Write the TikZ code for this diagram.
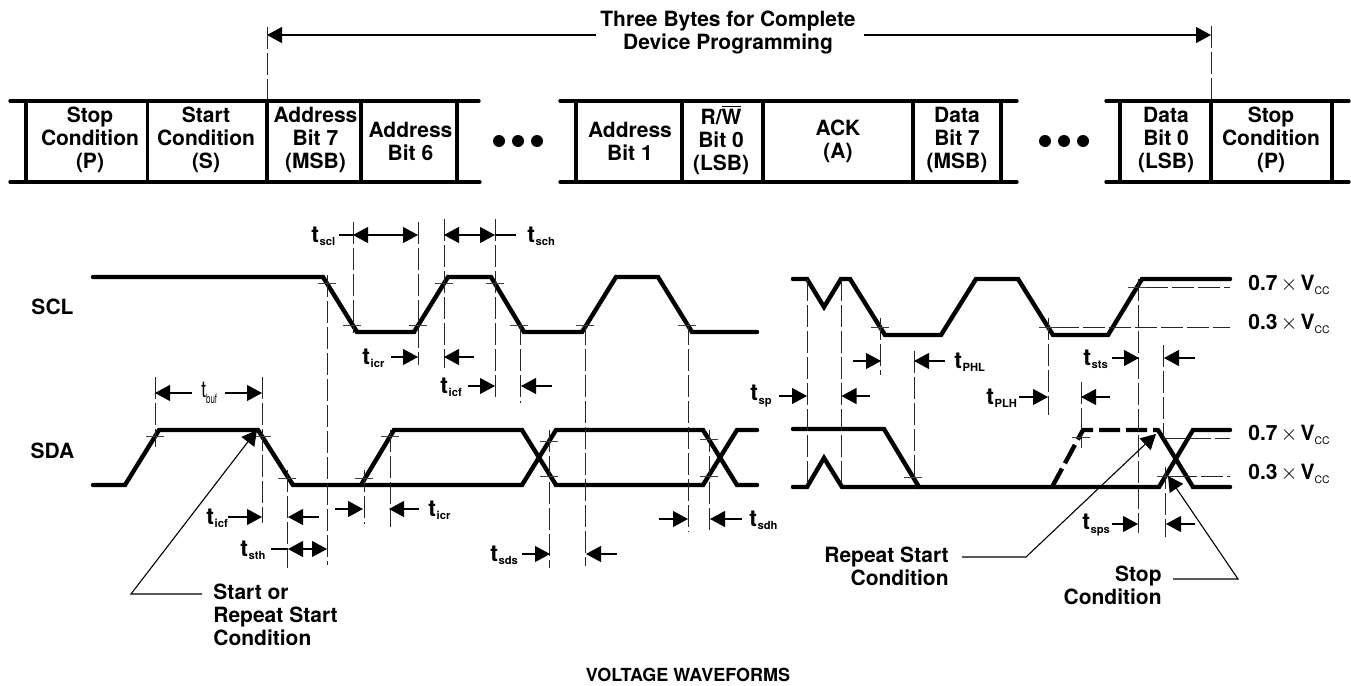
\documentclass[tikz,border=0pt]{standalone}
\usepackage{fontspec}
\setmainfont{TeX Gyre Heros}
\usetikzlibrary{arrows.meta}
\newcommand{\tlab}[1]{{\bfseries t\kern0.3pt\raisebox{-0.25ex}{\fontsize{5.6}{7}\selectfont #1}}}
\newcommand{\vlev}[1]{{\bfseries #1\kern1.5pt{\mdseries$\times$}\kern1.5pt V\raisebox{-0.3ex}{\mdseries\fontsize{5.2}{7}\selectfont CC}}}
\begin{document}
\begin{tikzpicture}[x=0.5pt, y=-0.5pt, line cap=butt, >={Triangle[length=7.5pt,width=8pt]}]
  \tikzset{lbl/.style={font=\bfseries\fontsize{10.5}{11.5}\selectfont, align=center, inner sep=0pt},
    rail/.style={line width=1.7pt, line cap=round}, wave/.style={line width=2.2pt, line cap=round},
    guide/.style={draw=black!85, line width=0.5pt, dash pattern=on 11pt off 2pt},
    lvl/.style={draw=black!75, line width=0.5pt}, dimn/.style={line width=0.55pt},
    tlbl/.style={anchor=west, inner sep=0pt, font=\fontsize{11.5}{12}\selectfont},
    vlbl/.style={anchor=west, inner sep=0pt, font=\fontsize{10.5}{12}\selectfont}}
  \useasboundingbox (0,0) rectangle (1351,686);
  % kop
  \node[lbl] (bytes) at (728,33) {Three Bytes for Complete\\Device Programming};
  \draw[->,dimn] (596,35) -- (267,35);
  \draw[->,dimn] (864,35) -- (1211,35);
  \draw[guide] (267,27) -- (267,100);
  \draw[guide] (1211,26) -- (1211,100);
  % frame
  \draw[rail] (10,101) -- (479,101) (10,182) -- (480,182);
  \draw[rail] (560,101) -- (1017,101) (560,182) -- (1017,182);
  \draw[rail] (1106,101) -- (1349,101) (1106,182) -- (1349,182);
  \draw[line width=1.6pt] (26,101) -- (26,182) (147.5,101) -- (147.5,182) (267,101) -- (267,182)
    (361,101) -- (361,182) (457,101) -- (457,182) (576,101) -- (576,182) (682,101) -- (682,182)
    (763,101) -- (763,182) (913,101) -- (913,182) (1001,101) -- (1001,182) (1120,101) -- (1120,182)
    (1211,101) -- (1211,182) (1332,101) -- (1332,182);
  \node[lbl] (stopa) at (90,140) {Stop\\Condition\\(P)};
  \node[lbl] (starta) at (206,140) {Start\\Condition\\(S)};
  \node[lbl] (addr7) at (315.5,140) {Address\\Bit 7\\(MSB)};
  \node[lbl] (addr6) at (410.5,141) {Address\\Bit 6};
  \node[lbl] (addr1) at (630,141) {Address\\Bit 1};
  \node[lbl] (rw) at (721,140) {R/$\overline{\hbox{W}}$\\Bit 0\\(LSB)};
  \node[lbl] (ack) at (838,141) {ACK\\(A)};
  \node[lbl] (data7) at (957,140) {Data\\Bit 7\\(MSB)};
  \node[lbl] (data0) at (1166,140) {Data\\Bit 0\\(LSB)};
  \node[lbl] (stopb) at (1271,140) {Stop\\Condition\\(P)};
  \fill (499,141) circle[radius=6] (518,141) circle[radius=6] (537,141) circle[radius=6];
  \fill (1045,141) circle[radius=6] (1064,141) circle[radius=6] (1083,141) circle[radius=6];
  % signaalnamen
  \node[lbl] (scl) at (52.5,307) {SCL};
  \node[lbl] (sda) at (52.5,451) {SDA};
  % SCL links
  \draw[wave] (93,277) -- (323,277) -- (357,332) -- (414,332) -- (448,277) -- (491,277) -- (524,332)
    -- (582,332) -- (616,277) -- (658,277) -- (692,332) -- (757,332);
  % SDA links
  \draw[wave] (93,485) -- (125,485) -- (159,430) -- (258,430) -- (293,485) -- (522,485) -- (556,430)
    -- (703,430) -- (737,485) -- (757,485);
  \draw[wave] (361,485) -- (394,430) -- (522,430) -- (556,485) -- (703,485) -- (737,430) -- (757,430);
  % SCL rechts
  \draw[wave] (793,279) -- (807,279) -- (824,307) -- (841,279) -- (850,279) -- (885,335) -- (941,335)
    -- (976,279) -- (1018,279) -- (1053,335) -- (1108,335) -- (1142,279) -- (1230,279);
  % SDA rechts
  \draw[wave] (793,429) -- (884,429) -- (919,487);
  \draw[wave] (793,487) -- (807,487) -- (824,458) -- (842,487) -- (1159,487) -- (1193,430) -- (1230,430);
  \draw[wave] (1158,430) -- (1193,487) -- (1230,487);
  \draw[wave, line cap=butt, dash pattern=on 10.5pt off 3pt] (1052,487) -- (1083,430) -- (1158,430);
  % ticks
  \draw[lvl] (318,283) -- (336,283) (343,325) -- (361,325) (435,283) -- (453,283) (486,283) -- (504,283)
    (409,325) -- (427,325) (510,325) -- (528,325) (576,325) -- (594,325) (678,325) -- (696,325);
  \draw[lvl] (146,436) -- (164,436) (253,436) -- (271,436) (278,478) -- (296,478) (355,478) -- (373,478)
    (381,436) -- (399,436) (540,441) -- (558,441) (540,476) -- (558,476) (700,439) -- (718,439) (700,476) -- (718,476);
  \draw[lvl] (871,327) -- (889,327) (1039,327) -- (1057,327) (904,477) -- (922,477) (1072,437) -- (1090,437);
  % niveaus
  \draw[guide] (1057,327) -- (1230,327);
  \draw[lvl] (1128,287) -- (1146,287);
  \draw[guide] (1146,287) -- (1230,287);
  \draw[guide] (1163,438) -- (1230,438);
  \draw[lvl] (1157,476) -- (1175,476);
  \draw[guide] (1175,476) -- (1230,476);
  % hulplijnen links
  \draw[guide] (327,275) -- (327,565) (353,222) -- (353,333) (418,222) -- (418,365) (444,219) -- (444,368)
    (495,219) -- (495,401) (520,323) -- (520,403) (585,323) -- (585,566) (688,323) -- (688,532);
  \draw[guide] (155,377) -- (155,447) (262,377) -- (262,523) (287.5,470) -- (287.5,568) (364,470) -- (364,524)
    (390,430) -- (390,527) (549,430) -- (549,568) (709,430) -- (709,532);
  % hulplijnen rechts
  \draw[guide] (807,279) -- (807,487) (841.5,279) -- (841.5,487) (880,318) -- (880,375) (914,351) -- (914,477)
    (1048,318) -- (1048,415) (1081,382) -- (1081,448) (1138,279) -- (1138,533) (1163,345) -- (1163,438)
    (1165,467) -- (1165,537);
  % maatpijlen
  \node[tlbl] (tbuf) at (201,393) {\scalebox{0.75}[1]{t}\raisebox{-0.5ex}{\fontsize{6.5}{7}\selectfont\scalebox{0.6}[1]{buf}}};
  \draw[->,dimn] (192,393) -- (155,393);
  \draw[->,dimn] (225,393) -- (262,393);
  \node[tlbl] (tscl) at (311,236) {\tlab{scl}};
  \draw[<->,dimn] (353,235) -- (418,235);
  \draw[dimn] (339,235) -- (353,235);
  \draw[<->,dimn] (444,235) -- (495,235);
  \draw[dimn] (495,235) -- (516,235);
  \node[tlbl] (tsch) at (527,236) {\tlab{sch}};
  \node[tlbl] (ticra) at (362,358) {\tlab{icr}};
  \draw[->,dimn] (391,357) -- (418,357);
  \draw[->,dimn] (474,357) -- (444,357);
  \node[tlbl] (ticfa) at (440,387) {\tlab{icf}};
  \draw[->,dimn] (468,386) -- (495,386);
  \draw[->,dimn] (552,386) -- (521,386);
  \node[tlbl] (tsp) at (750,396) {\tlab{sp}};
  \draw[->,dimn] (779,396) -- (807,396);
  \draw[->,dimn] (870,396) -- (841.5,396);
  \draw[->,dimn] (853,361) -- (881,361);
  \draw[->,dimn] (945,361) -- (914,361);
  \node[tlbl] (tphl) at (954,362) {\tlab{PHL}};
  \node[tlbl] (tplh) at (986,398) {\tlab{PLH}};
  \draw[->,dimn] (1019,397) -- (1048,397);
  \draw[->,dimn] (1110,397) -- (1081,397);
  \node[tlbl] (tsts) at (1083,359) {\tlab{sts}};
  \draw[->,dimn] (1112,358) -- (1139,358);
  \draw[->,dimn] (1195,358) -- (1164,358);
  \node[tlbl] (ticfb) at (206,518) {\tlab{icf}};
  \draw[->,dimn] (228,517) -- (262,517);
  \draw[->,dimn] (319,517) -- (288,517);
  \node[tlbl] (tsth) at (240,550) {\tlab{sth}};
  \draw[dimn] (271,549) -- (288,549);
  \draw[<->,dimn] (288,549) -- (327,549);
  \draw[->,dimn] (335,509) -- (363,509);
  \draw[->,dimn] (419,509) -- (389,509);
  \node[tlbl] (ticrb) at (428,510) {\tlab{icr}};
  \node[tlbl] (tsds) at (490,555) {\tlab{sds}};
  \draw[->,dimn] (522,554) -- (550,554);
  \draw[->,dimn] (617,554) -- (586,554);
  \draw[->,dimn] (659,519) -- (688,519);
  \draw[->,dimn] (742,519) -- (710,519);
  \node[tlbl] (tsdh) at (749,520) {\tlab{sdh}};
  \node[tlbl] (tsps) at (1082,525) {\tlab{sps}};
  \draw[->,dimn] (1112,524) -- (1138,524);
  \draw[->,dimn] (1195,524) -- (1166,524);
  % spanningen
  \node[vlbl] (vha) at (1248,285) {\vlev{0.7}};
  \node[vlbl] (vla) at (1248,324) {\vlev{0.3}};
  \node[vlbl] (vhb) at (1248,435) {\vlev{0.7}};
  \node[vlbl] (vlb) at (1248,474) {\vlev{0.3}};
  % verwijzingen
  \node[lbl, align=left, anchor=north west] (rstart) at (213,584) {Start or\\Repeat Start\\Condition};
  \draw[->,dimn] (202,594) -- (131,594) -- (257,430);
  \node[lbl, align=right, anchor=north east] (rep) at (949,547) {Repeat Start\\Condition};
  \draw[->,dimn] (962,557) -- (1026,557) -- (1156,434);
  \node[lbl, align=right, anchor=north east] (stopc) at (1162,566) {Stop\\Condition};
  \draw[->,dimn] (1173,579) -- (1238,579) -- (1168,476);
  \node[lbl] (volt) at (688,675) {\fontsize{9}{11}\selectfont VOLTAGE WAVEFORMS};
\end{tikzpicture}
\end{document}
